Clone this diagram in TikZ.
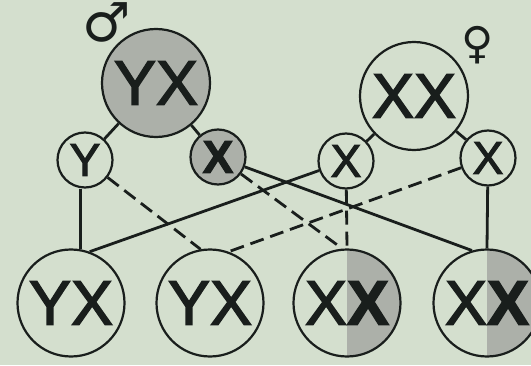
\documentclass[tikz,border=0pt]{standalone}
\usepackage{fontspec}
\newfontfamily\chromfont[FakeBold=2.4]{Liberation Sans}
\newfontfamily\symfont{DejaVu Sans}
\usetikzlibrary{arrows.meta}

\definecolor{paper}{RGB}{212,223,206}
\definecolor{stipple}{RGB}{172,176,169}
\definecolor{ink}{RGB}{25,30,28}

\begin{document}
\begin{tikzpicture}[x=1pt,y=1pt,
  chrom/.style={circle, draw=ink, line width=2.2pt, inner sep=0pt, text=ink},
  parent/.style={chrom, minimum size=108pt, font=\chromfont\fontsize{63}{63}\selectfont},
  child/.style={parent, minimum size=107pt},
  gamete/.style={chrom, minimum size=55pt, font=\chromfont\fontsize{46}{46}\selectfont},
  carrier/.style={fill=stipple},
  link/.style={draw=ink, line width=2.8pt},
  dashlink/.style={link, dash pattern=on 14pt off 7pt},
  sexsign/.style={inner sep=0pt, text=ink},
]
\fill[paper] (0,0) rectangle (531,365);
\useasboundingbox (0,0) rectangle (531,365);

% parents
\node[parent, carrier] (P1) at (156,282) {YX};
\node[parent] (P2) at (414,269) {XX};
\node[sexsign, font=\symfont\fontsize{54}{54}\selectfont] (male) at (107,343) {♂};
\node[sexsign, font=\symfont\fontsize{44}{44}\selectfont] (female) at (478,320) {♀};

% gametes
\node[gamete] (Y) at (85,205) {Y};
\node[gamete, carrier, font=\chromfont\bfseries\fontsize{46}{46}\selectfont] (mx) at (218,208) {X};
\node[gamete] (fl) at (346,204) {X};
\node[gamete] (fr) at (488,207) {X};

% offspring (the father's X shown stippled on the right half)
\coordinate (c3) at (347,62);
\coordinate (c4) at (487,62);
\fill[stipple] (c3) ++(90:53.5) arc[start angle=90, end angle=-90, radius=53.5] -- cycle;
\fill[stipple] (c4) ++(90:53.5) arc[start angle=90, end angle=-90, radius=53.5] -- cycle;
\node[child] (o1) at (71,62) {YX};
\node[child] (o2) at (210,62) {YX};
\node[child] (o3) at (c3) {X{\bfseries X}};
\node[child] (o4) at (c4) {X{\bfseries X}};

% meiosis
\draw[link] (P1) -- (Y);
\draw[link] (P1) -- (mx);
\draw[link] (P2) -- (fl);
\draw[link] (P2) -- (fr);

% fertilisation
\draw[link] (o1.80) -- (o1.80 |- Y.south);
\draw[dashlink] (Y) -- (o2.100);
\draw[link] (fl) -- (o1.70);
\draw[dashlink] (fr) -- (o2.70);
\draw[dashlink] (mx) -- (o3.95);
\draw[link] (mx) -- (o4.106);
\draw[dashlink] (fl) -- (o3.north);
\draw[link] (fr) -- (o4.north);
\end{tikzpicture}
\end{document}
